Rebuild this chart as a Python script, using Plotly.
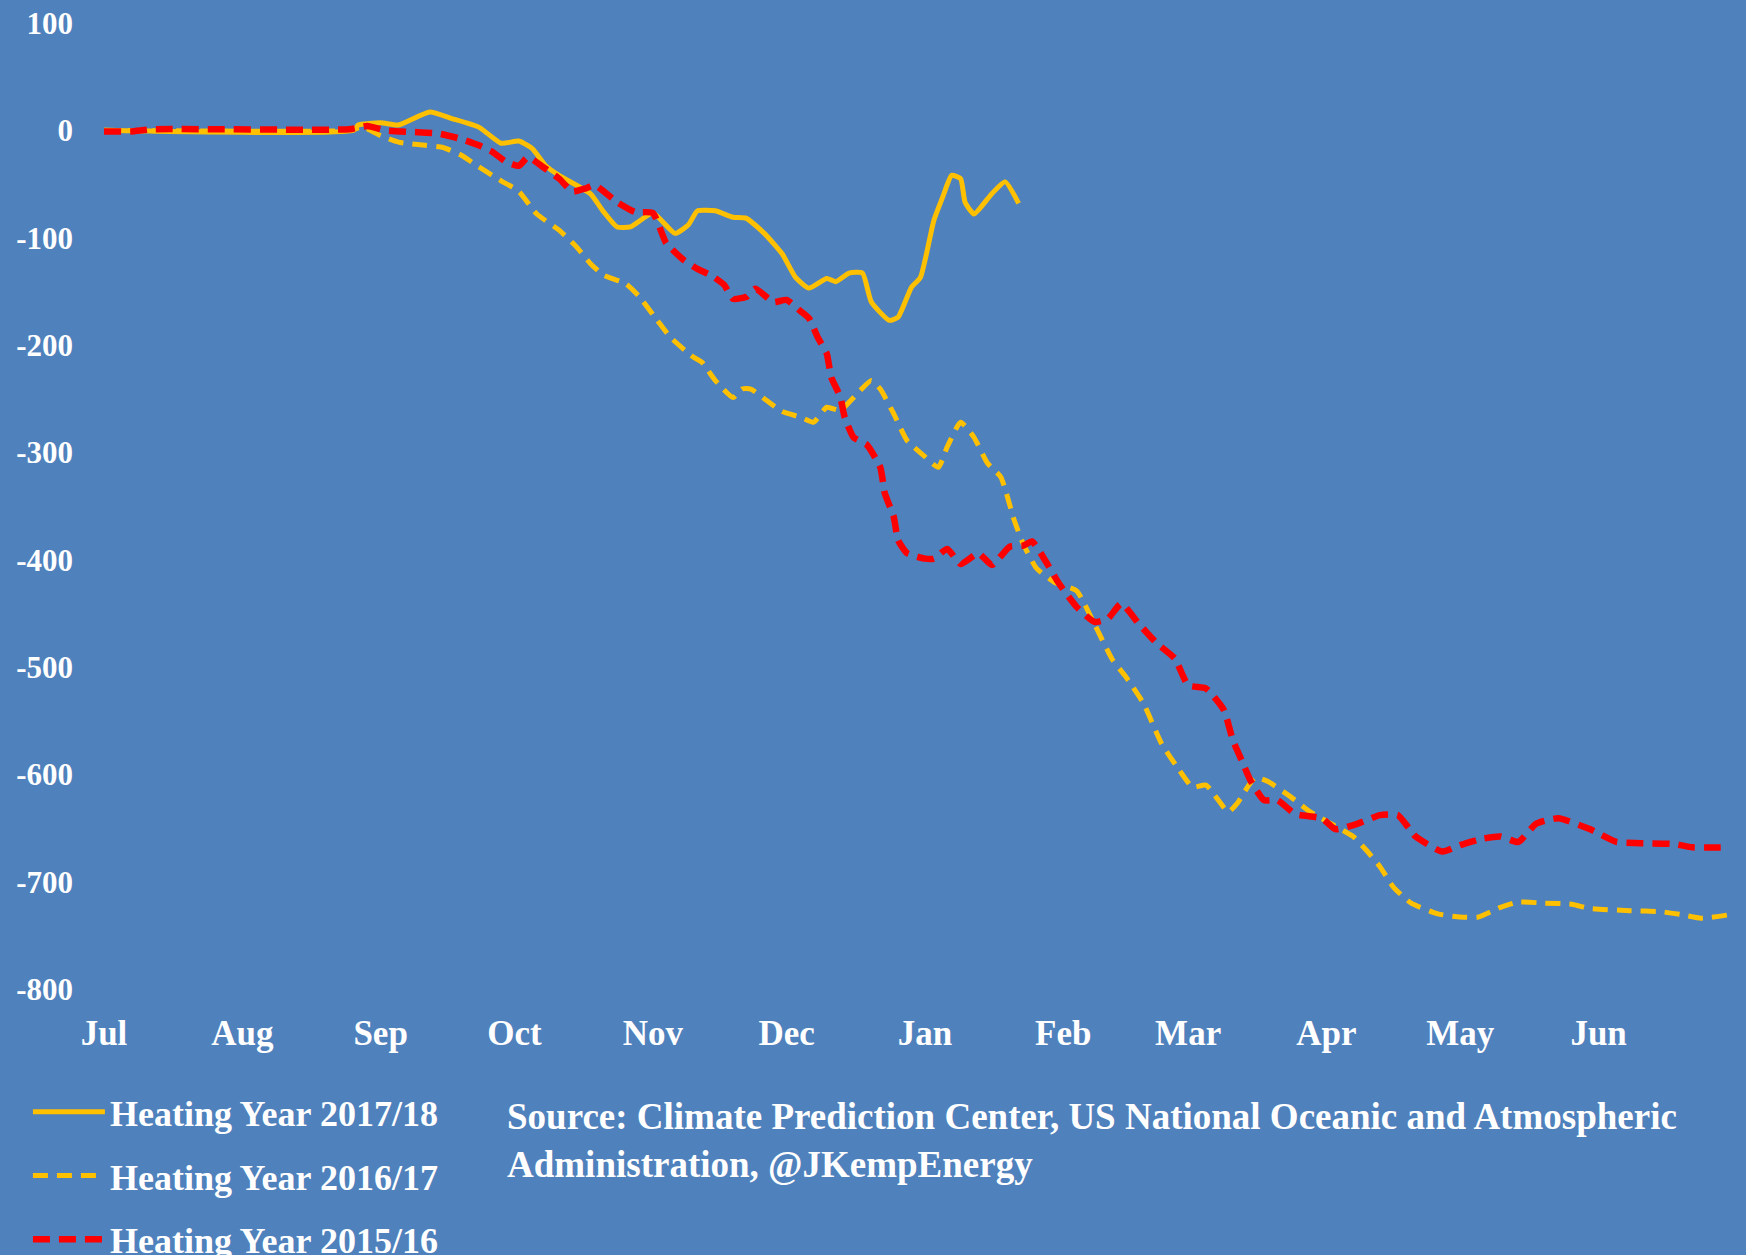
import plotly.graph_objects as go

# ---- data (x = date within a common heating year, Jul..Jun) ----
dates_1718 = ["2017-07-01", "2017-08-26", "2017-08-27", "2017-09-01", "2017-09-05", "2017-09-12",
              "2017-09-17", "2017-09-23", "2017-09-28", "2017-10-02", "2017-10-05", "2017-10-08",
              "2017-10-11", "2017-10-18", "2017-10-21", "2017-10-24", "2017-10-27", "2017-11-01",
              "2017-11-06", "2017-11-09", "2017-11-11", "2017-11-15", "2017-11-19", "2017-11-22",
              "2017-11-26", "2017-11-30", "2017-12-03", "2017-12-06", "2017-12-10", "2017-12-12",
              "2017-12-15", "2017-12-18", "2017-12-20", "2017-12-24", "2017-12-26", "2017-12-29",
              "2017-12-31", "2018-01-03", "2018-01-05", "2018-01-07", "2018-01-09", "2018-01-10",
              "2018-01-12", "2018-01-16", "2018-01-19", "2018-01-22"]
hdd_1718 = [0, 0, 5, 7, 5, 17,
            11, 3, -12, -10, -17, -33,
            -42, -59, -76, -90, -90, -77,
            -96, -88, -75, -75, -81, -82,
            -96, -115, -137, -147, -138, -141,
            -133, -133, -160, -177, -174, -146,
            -137, -84, -62, -42, -45, -67,
            -78, -59, -48, -68]

dates_1617 = ["2017-07-01", "2017-08-25", "2017-08-28", "2017-09-01", "2017-09-05", "2017-09-11",
              "2017-09-15", "2017-09-19", "2017-09-23", "2017-09-28", "2017-10-02", "2017-10-06",
              "2017-10-11", "2017-10-15", "2017-10-18", "2017-10-21", "2017-10-26", "2017-10-29",
              "2017-11-02", "2017-11-05", "2017-11-10", "2017-11-12", "2017-11-15", "2017-11-19",
              "2017-11-21", "2017-11-23", "2017-11-26", "2017-11-30", "2017-12-04", "2017-12-07",
              "2017-12-10", "2017-12-13", "2017-12-16", "2017-12-20", "2017-12-22", "2017-12-25",
              "2017-12-28", "2018-01-01", "2018-01-04", "2018-01-06", "2018-01-09", "2018-01-12",
              "2018-01-15", "2018-01-18", "2018-01-21", "2018-01-23", "2018-01-26", "2018-01-30",
              "2018-02-04", "2018-02-08", "2018-02-12", "2018-02-15", "2018-02-19", "2018-02-23",
              "2018-02-27", "2018-03-02", "2018-03-05", "2018-03-10", "2018-03-12", "2018-03-16",
              "2018-03-19", "2018-03-24", "2018-03-28", "2018-04-02", "2018-04-07", "2018-04-10",
              "2018-04-13", "2018-04-16", "2018-04-20", "2018-04-26", "2018-05-01", "2018-05-05",
              "2018-05-10", "2018-05-14", "2018-05-20", "2018-05-26", "2018-05-30", "2018-06-08",
              "2018-06-15", "2018-06-20", "2018-06-24", "2018-06-30"]
hdd_1617 = [0, 0, 3, -5, -11, -14,
            -16, -23, -34, -47, -57, -78,
            -93, -109, -124, -135, -143, -155,
            -177, -193, -211, -216, -233, -249,
            -241, -241, -250, -262, -267, -272,
            -258, -261, -249, -233, -241, -264,
            -289, -304, -314, -295, -272, -286,
            -310, -323, -363, -385, -408, -421,
            -429, -460, -493, -509, -534, -571,
            -596, -612, -610, -635, -627, -603,
            -607, -621, -634, -646, -658, -671,
            -686, -705, -720, -730, -733, -733,
            -724, -719, -720, -721, -725, -727,
            -728, -731, -734, -731]

dates_1516 = ["2017-07-01", "2017-07-07", "2017-07-12", "2017-08-25", "2017-08-29", "2017-09-02",
              "2017-09-08", "2017-09-14", "2017-09-19", "2017-09-23", "2017-09-26", "2017-09-29",
              "2017-10-02", "2017-10-04", "2017-10-07", "2017-10-11", "2017-10-14", "2017-10-17",
              "2017-10-19", "2017-10-24", "2017-10-28", "2017-11-01", "2017-11-04", "2017-11-08",
              "2017-11-11", "2017-11-14", "2017-11-17", "2017-11-19", "2017-11-22", "2017-11-24",
              "2017-11-28", "2017-12-01", "2017-12-04", "2017-12-06", "2017-12-08", "2017-12-10",
              "2017-12-11", "2017-12-13", "2017-12-14", "2017-12-16", "2017-12-19", "2017-12-22",
              "2017-12-23", "2017-12-25", "2017-12-26", "2017-12-28", "2018-01-01", "2018-01-03",
              "2018-01-06", "2018-01-09", "2018-01-13", "2018-01-16", "2018-01-20", "2018-01-23",
              "2018-01-25", "2018-01-28", "2018-01-31", "2018-02-04", "2018-02-08", "2018-02-11",
              "2018-02-14", "2018-02-18", "2018-02-22", "2018-02-26", "2018-03-01", "2018-03-05",
              "2018-03-09", "2018-03-11", "2018-03-13", "2018-03-15", "2018-03-18", "2018-03-21",
              "2018-03-25", "2018-03-31", "2018-04-03", "2018-04-08", "2018-04-13", "2018-04-17",
              "2018-04-21", "2018-04-27", "2018-05-01", "2018-05-06", "2018-05-10", "2018-05-14",
              "2018-05-18", "2018-05-23", "2018-05-30", "2018-06-05", "2018-06-09", "2018-06-18",
              "2018-06-22", "2018-06-30"]
hdd_1516 = [-1, -1, 1, 1, 4, 0,
            -1.5, -3, -8, -14, -20, -29,
            -33, -25, -33, -45, -57, -54,
            -51, -67, -76, -77, -105, -121,
            -129, -135, -144, -157, -155, -147.5,
            -160, -158, -168, -175, -193, -208,
            -230, -248, -267, -286, -293, -314,
            -338, -360, -382, -394, -399, -399,
            -390, -404, -394, -405, -388, -387,
            -383, -401, -422, -444, -458, -455,
            -441, -460, -478, -492, -517, -520,
            -540, -568, -587, -606, -624, -624,
            -637, -641, -651, -646, -638, -638,
            -658, -672, -666, -660, -658, -663,
            -646, -641, -651, -663, -664, -665,
            -668, -668]

series_names = ["Heating Year 2017/18", "Heating Year 2016/17", "Heating Year 2015/16"]
month_ticks = ["2017-07-01", "2017-08-01", "2017-09-01", "2017-10-01", "2017-11-01", "2017-12-01",
               "2018-01-01", "2018-02-01", "2018-03-01", "2018-04-01", "2018-05-01", "2018-06-01"]
month_labels = ["Jul", "Aug", "Sep", "Oct", "Nov", "Dec", "Jan", "Feb", "Mar", "Apr", "May", "Jun"]
y_ticks = [100, 0, -100, -200, -300, -400, -500, -600, -700, -800]
y_labels = ["100", "0", "-100", "-200", "-300", "-400", "-500", "-600", "-700", "-800"]
source_text = ("Source: Climate Prediction Center, US National Oceanic and Atmospheric<br>"
               "Administration, @JKempEnergy")

BG = "#4F81BD"
YEL = "#FFC000"
RED = "#FF0000"
FONT = "Liberation Serif"

fig = go.Figure()
fig.add_trace(go.Scatter(x=dates_1718, y=hdd_1718, mode="lines", name=series_names[0],
                         legendgroup="a",
                         line=dict(color=YEL, width=5, shape="spline", smoothing=0.5)))
fig.add_trace(go.Scatter(x=dates_1617, y=hdd_1617, mode="lines", name=series_names[1],
                         legendgroup="b",
                         line=dict(color=YEL, width=5, dash="15px,9px", shape="spline", smoothing=0.5)))
fig.add_trace(go.Scatter(x=dates_1516, y=hdd_1516, mode="lines", name=series_names[2],
                         legendgroup="c",
                         line=dict(color=RED, width=6.5, dash="17px,9px", shape="spline", smoothing=0.5)))

W, H = 1746, 1255
L, R, T, B = 104, 18, 23, 266

fig.update_layout(
    width=W, height=H,
    margin=dict(l=L, r=R, t=T, b=B, autoexpand=False),
    paper_bgcolor=BG, plot_bgcolor=BG,
    font=dict(family=FONT, color="white", size=30),
    showlegend=True,
    legend=dict(
        xref="container", yref="container",
        x=0.016, y=0.138, xanchor="left", yanchor="top",
        bgcolor="rgba(0,0,0,0)",
        font=dict(family=FONT, size=36, color="white", weight="bold"),
        tracegroupgap=14, itemwidth=72,
    ),
    xaxis=dict(
        type="date",
        range=["2017-07-01", "2018-06-30"],
        tickvals=month_ticks, ticktext=month_labels,
        showgrid=False, zeroline=False, showline=False, ticks="",
        tickfont=dict(family=FONT, size=35, color="white", weight="bold"),
        ticklabelstandoff=20,
    ),
    yaxis=dict(
        range=[-800, 100],
        tickvals=y_ticks, ticktext=y_labels,
        showgrid=False, zeroline=False, showline=False, ticks="",
        tickfont=dict(family=FONT, size=31, color="white", weight="bold"),
        ticklabelstandoff=30,
    ),
    annotations=[dict(
        text=source_text, xref="paper", yref="paper",
        x=(505 - L) / (W - L - R), y=-0.109, xanchor="left", yanchor="top",
        align="left", showarrow=False,
        font=dict(family=FONT, size=37, color="white", weight="bold"),
    )],
)

fig.write_html("out.html", config={"displayModeBar": False},
               post_script="document.body.style.margin='0';")
